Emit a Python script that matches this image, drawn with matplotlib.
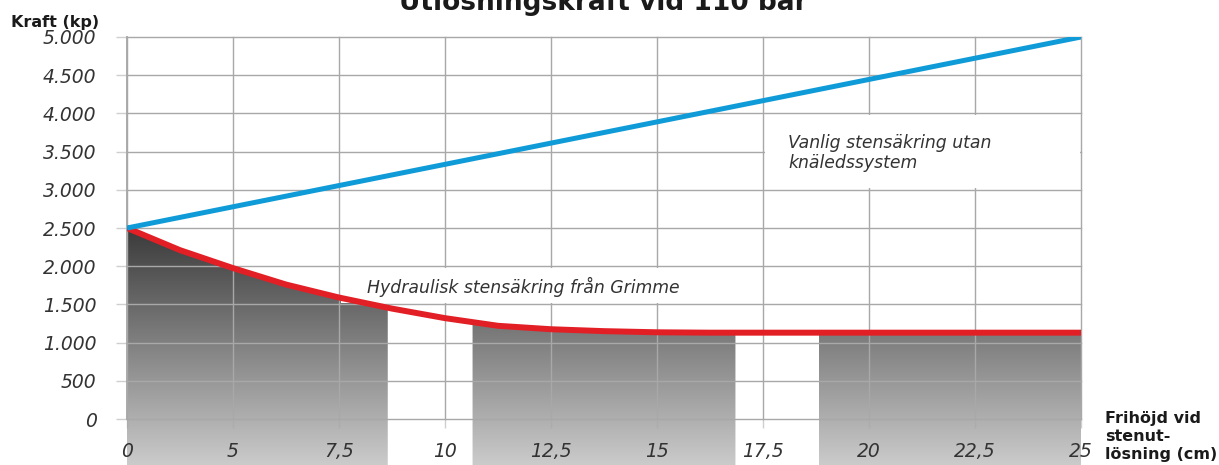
import numpy as np
import matplotlib
matplotlib.use("Agg")
import matplotlib.pyplot as plt
from matplotlib.colors import LinearSegmentedColormap
from matplotlib.patches import Polygon, Rectangle

# x axis is categorical: equally spaced tick positions
x_labels = ['0', '5', '7,5', '10', '12,5', '15', '17,5', '20', '22,5', '25']
y_ticks = [0, 500, 1000, 1500, 2000, 2500, 3000, 3500, 4000, 4500, 5000]
y_labels = ['0', '500', '1.000', '1.500', '2.000', '2.500',
            '3.000', '3.500', '4.000', '4.500', '5.000']

# red curve (hydraulic), positions in tick-index units
red_x = [0, 0.5, 1, 1.5, 2, 2.5, 3, 3.5, 4, 4.5, 5, 5.5, 6, 9]
red_y = [2500, 2210, 1975, 1760, 1590, 1445, 1320, 1220, 1175, 1150,
         1135, 1130, 1130, 1130]

# blue line (conventional)
blue_x = [0, 9]
blue_y = [2500, 5000]

# grey gradient bands under the red curve (start, end in index units)
bands = [(0, 2.46), (3.26, 5.74), (6.53, 9)]

GRID = (0.66, 0.66, 0.66, 0.55)
TXT = '#333333'


def band_poly(a, b, ax):
    xs = np.array([a] + [x for x in red_x if a < x < b] + [b])
    ys = np.interp(xs, red_x, red_y)
    pts = [(a, -900)] + list(zip(xs, ys)) + [(b, -900)]
    return Polygon(pts, closed=True, transform=ax.transData)


def main():
    fig = plt.figure(figsize=(12.19, 4.65), dpi=100)
    ax = fig.add_axes([127 / 1219, 46 / 465, 954 / 1219, 382 / 465])

    cmap = LinearSegmentedColormap.from_list('g', ['#cbcbcb', '#3a3a3a'])
    grad = np.linspace(0, 1, 256).reshape(-1, 1)
    for a, b in bands:
        im = ax.imshow(grad, cmap=cmap, origin='lower', aspect='auto',
                       extent=[0, 9, -602, 2500], zorder=1,
                       interpolation='bilinear')
        im.set_clip_path(band_poly(a, b, ax))
        im.set_clip_box(fig.bbox)

    # white label boxes hiding the grid
    ax.add_patch(Rectangle((2.015, 1520), 3.97, 460, facecolor='white',
                           edgecolor='none', zorder=3))
    ax.add_patch(Rectangle((6.015, 3020), 2.98, 960, facecolor='white',
                           edgecolor='none', zorder=3))

    ax.plot(red_x, red_y, color='#e31f26', lw=4.3, zorder=4,
            solid_capstyle='butt')
    ax.plot(blue_x, blue_y, color='#0f9bd7', lw=3.6, zorder=5,
            solid_capstyle='butt')

    ax.text(2.264, 1728, 'Hydraulisk stensäkring från Grimme',
            fontsize=12.4, style='italic', color=TXT, va='center', zorder=6)
    ax.text(6.236, 3480, 'Vanlig stensäkring utan\nknäledssystem',
            fontsize=12.4, style='italic', color=TXT, va='center',
            linespacing=1.15, zorder=6)

    ax.set_xlim(0, 9)
    ax.set_ylim(0, 5000)
    ax.set_xticks(range(len(x_labels)))
    ax.set_xticklabels(x_labels)
    ax.set_yticks(y_ticks)
    ax.set_yticklabels(y_labels)
    ax.set_axisbelow(False)
    ax.grid(True, color=GRID, lw=1.0)
    for gl in ax.get_xgridlines() + ax.get_ygridlines():
        gl.set_clip_on(False)
    ax.tick_params(axis='y', length=7.9, width=1.0, color=GRID, pad=14,
                   labelsize=13.5, labelcolor=TXT)
    ax.tick_params(axis='x', length=6.5, width=1.0, color=GRID, pad=10,
                   labelsize=13.5, labelcolor=TXT)
    for lab in ax.get_xticklabels() + ax.get_yticklabels():
        lab.set_style('italic')
    for s in ['top', 'right', 'bottom']:
        ax.spines[s].set_visible(False)
    ax.spines['left'].set_color('#a6a6a6')
    ax.spines['left'].set_linewidth(1.3)

    fig.text(603 / 1219, 1 - 10 / 465, 'Utlösningskraft vid 110 bar',
             ha='center', va='baseline', fontsize=19, weight='bold',
             color='#1a1a1a')
    fig.text(11 / 1219, 1 - 27.5 / 465, 'Kraft (kp)', ha='left',
             va='baseline', fontsize=11.5, weight='bold', color='#1a1a1a')
    fig.text(1105 / 1219, 1 - 459 / 465, 'Frihöjd vid\nstenut-\nlösning (cm)',
             ha='left', va='baseline', fontsize=11.5, weight='bold',
             color='#1a1a1a', linespacing=1.25)

    fig.savefig('out.png', dpi=100)


if __name__ == "__main__":
    main()
